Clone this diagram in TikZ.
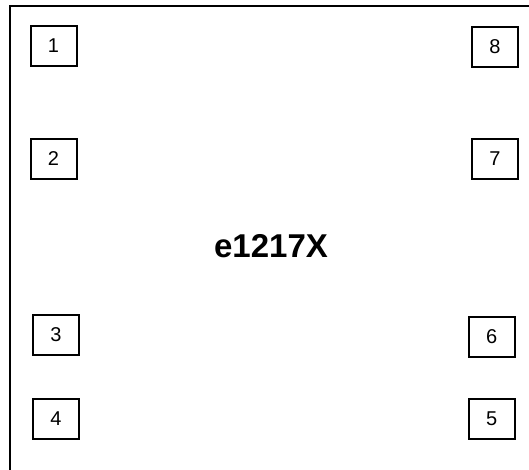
\documentclass[tikz,border=0pt]{standalone}
\usepackage{fontspec}
\setmainfont{Liberation Sans}
\usetikzlibrary{positioning}

\begin{document}
\begin{tikzpicture}[x=1pt, y=-1pt, line width=2pt,
		pin/.style={draw, minimum width=46pt, minimum height=40pt, inner sep=0pt, font=\fontsize{20}{20}\selectfont}]
				\clip (0,0) rectangle (529,469);
				\useasboundingbox (0,0) rectangle (529,469);

				% package outline
				\draw (10,6) rectangle (560,500);

				\node[font=\bfseries\fontsize{33}{33}\selectfont] (chip) at (271,246) {e1217X};

				% left pins
				\node[pin] (p1) at (53.5,46) {1};
				\node[pin] (p2) at (53.5,159) {2};
				\node[pin] (p3) at (56,334.7) {3};
				\node[pin] (p4) at (56,418.5) {4};

				% right pins
				\node[pin] (p5) at (491.7,418.5) {5};
				\node[pin] (p6) at (491.7,337) {6};
				\node[pin] (p7) at (495,158.7) {7};
				\node[pin] (p8) at (495,46.5) {8};

			\end{tikzpicture}
\end{document}
